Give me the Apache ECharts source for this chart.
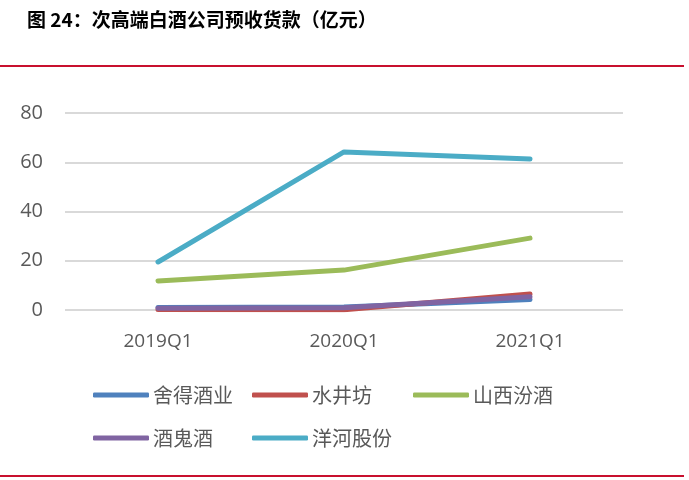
<!DOCTYPE html>
<html>
<head>
<meta charset="utf-8">
<style>
  html, body { margin: 0; padding: 0; background: #fff; }
  #chart { width: 689px; height: 480px; }
</style>
<script src="https://cdn.jsdelivr.net/npm/echarts@6/dist/echarts.min.js"></script>
</head>
<body>
<div id="chart"></div>
<script>
// 预收货款（亿元）
const categories = ['2019Q1', '2020Q1', '2021Q1'];
const seriesNames = ['舍得酒业', '水井坊', '山西汾酒', '酒鬼酒', '洋河股份'];
const shede = [1.0, 1.2, 4.3];
const shuijingfang = [0.2, 0.1, 6.5];
const fenjiu = [11.8, 16.2, 29.2];
const jiuguijiu = [0.7, 0.9, 5.4];
const yanghe = [19.5, 64.2, 61.3];
const yTicks = [0, 20, 40, 60, 80];

const colors = ['#4F81BD', '#C0504D', '#9BBB59', '#8064A2', '#4BACC6'];
const seriesData = [shede, shuijingfang, fenjiu, jiuguijiu, yanghe];

const chart = echarts.init(document.getElementById('chart'));

// legend slots, laid out like the Excel legend grid
const legendPos = [
  { left: 93, top: 385 },
  { left: 252, top: 385 },
  { left: 413, top: 385 },
  { left: 93, top: 428 },
  { left: 252, top: 428 },
];

const option = {
  animation: false,
  color: colors,
  graphic: [
    {
      type: 'text',
      left: 27,
      top: 10,
      style: {
        text: '图 24：次高端白酒公司预收货款（亿元）',
        font: 'bold 19px "Noto Sans CJK SC", sans-serif',
        fill: '#000',
      },
    },
    {
      type: 'rect',
      left: 0,
      top: 65,
      shape: { width: 684, height: 2 },
      style: { fill: '#C8102E' },
    },
    {
      type: 'rect',
      left: 0,
      top: 475,
      shape: { width: 684, height: 2 },
      style: { fill: '#C8102E' },
    },
  ],
  legend: seriesNames.map((name, i) => ({
    data: [name],
    left: legendPos[i].left,
    top: legendPos[i].top,
    padding: 0,
    itemWidth: 56,
    itemHeight: 5,
    itemGap: 0,
    icon: 'roundRect',
    textStyle: {
      color: '#595959',
      fontSize: 20,
      fontFamily: '"Noto Sans CJK SC", sans-serif',
      padding: [0, 0, 0, -1],
    },
  })),
  grid: {
    left: 65,
    right: 66,
    top: 113,
    height: 197,
    containLabel: false,
  },
  xAxis: {
    type: 'category',
    data: categories,
    boundaryGap: true,
    axisLine: { show: false },
    axisTick: { show: false },
    axisLabel: {
      color: '#595959',
      fontSize: 19,
      fontFamily: '"Open Sans", sans-serif',
      margin: 22,
    },
  },
  yAxis: {
    type: 'value',
    min: yTicks[0],
    max: yTicks[yTicks.length - 1],
    interval: 20,
    axisLine: { show: false },
    axisTick: { show: false },
    axisLabel: {
      color: '#595959',
      fontSize: 20,
      fontFamily: '"Open Sans", sans-serif',
      margin: 22,
    },
    splitLine: { lineStyle: { color: '#D9D9D9', width: 2 } },
  },
  series: seriesNames.map((name, i) => ({
    name: name,
    type: 'line',
    data: seriesData[i],
    symbol: 'none',
    lineStyle: { width: 5, color: colors[i], cap: 'round', join: 'round' },
    itemStyle: { color: colors[i] },
  })),
};

chart.setOption(option);
</script>
</body>
</html>
